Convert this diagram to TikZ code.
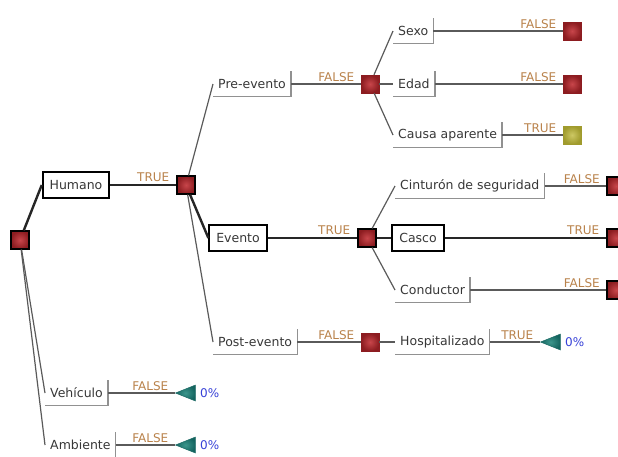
\documentclass[tikz,border=0pt]{standalone}
\usepackage{fontspec}
\setmainfont{DejaVu Sans}
\usepackage{tikz}
\usetikzlibrary{positioning,shapes.geometric}
\definecolor{txtcol}{RGB}{55,55,55}
\definecolor{lblcol}{RGB}{185,130,75}
\definecolor{pctcol}{RGB}{55,65,215}
\definecolor{linecol}{RGB}{90,90,90}
\definecolor{brkcol}{RGB}{145,145,145}
\definecolor{redin}{RGB}{200,70,75}
\definecolor{redout}{RGB}{140,28,32}
\definecolor{olvin}{RGB}{205,200,100}
\definecolor{olvout}{RGB}{160,155,45}
\definecolor{tealin}{RGB}{60,150,140}
\definecolor{tealout}{RGB}{20,100,95}

\begin{document}
\begin{tikzpicture}[
	x=1pt, y=-1pt,
	font=\fontsize{12.5}{14}\selectfont,
	thn/.style={
		draw=linecol,
		line width=1.2pt
	},
	thk/.style={
		draw=black!85,
		line width=2.4pt
	},
	brkline/.style={
		draw=brkcol,
		line width=1.4pt
	},
	box/.style={
		draw=black,
		line width=1.8pt,
		fill=white,
		text=txtcol,
		inner xsep=7pt,
		minimum height=26pt
	},
	brk/.style={
		text=txtcol,
		anchor=west,
		inner xsep=5pt,
		minimum height=25pt,
		append after command={
			(\tikzlastnode.south west) edge[brkline] (\tikzlastnode.south east)
			(\tikzlastnode.south east) edge[brkline] (\tikzlastnode.north east)
		}
	},
	sq/.style={
		draw=redout,
		inner color=redin,
		outer color=redout,
		minimum size=18pt,
		inner sep=0pt
	},
	sqb/.style={
		sq,
		draw=black,
		line width=1.2pt
	},
	sqg/.style={
		sq,
		draw=olvout,
		inner color=olvin,
		outer color=olvout
	},
	tri/.style={
		isosceles triangle,
		isosceles triangle stretches,
		shape border rotate=180,
		draw=tealout,
		inner color=tealin,
		outer color=tealout,
		minimum width=16pt,
		minimum height=20pt,
		inner sep=0pt
	},
	lbl/.style={
		font=\fontsize{12}{14}\selectfont,
		text=lblcol,
		anchor=south east,
		xshift=-4pt,
		inner sep=2pt
	},
	pct/.style={
		font=\fontsize{12}{14}\selectfont,
		text=pctcol
	}
	]
	\useasboundingbox (0,0) rectangle (618,456);
	
	\node[sqb] (root) at (20,240) {};
	\node[box] (hum) at (76,185) {Humano};
	\node[sqb] (d1) at (186,185) {};
	
	\node[brk] (pre) at (213,84) {Pre-evento};
	\node[box] (evt) at (238,238) {Evento};
	\node[brk] (post) at (213,342) {Post-evento};
	
	\node[sq] (d2) at (370,84) {};
	\node[brk] (sexo) at (393,31) {Sexo};
	\node[brk] (edad) at (393,84) {Edad};
	\node[brk] (causa) at (393,135) {Causa aparente};
	\node[sq] (e1) at (572,31) {};
	\node[sq] (e2) at (572,84) {};
	\node[sqg] (e3) at (572,135) {};
	
	\node[sqb] (d3) at (367,238) {};
	\node[brk] (cint) at (395,186) {Cinturón de seguridad};
	\node[box] (casco) at (418,238) {Casco};
	\node[brk] (cond) at (395,290) {Conductor};
	\node[sqb] (f1) at (616,186) {};
	\node[sqb] (f2) at (616,238) {};
	\node[sqb] (f3) at (616,290) {};
	
	\node[sq] (d4) at (370,342) {};
	\node[brk] (hosp) at (395,342) {Hospitalizado};
	\node[tri] (t1) at (555,342) {};
	\node[pct, right=1pt of t1] (p1) {0\%};
	
	\node[brk] (veh) at (45,393) {Vehículo};
	\node[tri] (t2) at (190,393) {};
	\node[pct, right=1pt of t2] (p2) {0\%};
	\node[brk] (amb) at (45,445) {Ambiente};
	\node[tri] (t3) at (190,445) {};
	\node[pct, right=1pt of t3] (p3) {0\%};
	
	% main branch
	\draw[thk] (root) -- (hum.west);
	\draw[thk] (hum) -- node[lbl, pos=1] {TRUE} (d1);
	\draw[thk] (d1) -- (evt.west);
	\draw[thk] (evt) -- node[lbl, pos=1] {TRUE} (d3);
	\draw[thk] (d3) -- (casco);
	\draw[thk] (casco) -- node[lbl, pos=1] {TRUE} (f2);
	
	\draw[thn] (root) -- (veh.west);
	\draw[thn] (root) -- (amb.west);
	\draw[thn] (veh) -- node[lbl, pos=1] {FALSE} (t2);
	\draw[thn] (amb) -- node[lbl, pos=1] {FALSE} (t3);
	
	\draw[thn] (d1) -- (pre.west);
	\draw[thn] (d1) -- (post.west);
	\draw[thn] (pre) -- node[lbl, pos=1] {FALSE} (d2);
	\draw[thn] (post) -- node[lbl, pos=1] {FALSE} (d4);
	\draw[thn] (d4) -- (hosp);
	\draw[thn] (hosp) -- node[lbl, pos=1] {TRUE} (t1);
	
	\draw[thn] (d2) -- (sexo.west);
	\draw[thn] (d2) -- (edad);
	\draw[thn] (d2) -- (causa.west);
	\draw[thn] (sexo) -- node[lbl, pos=1] {FALSE} (e1);
	\draw[thn] (edad) -- node[lbl, pos=1] {FALSE} (e2);
	\draw[thn] (causa) -- node[lbl, pos=1] {TRUE} (e3);
	
	\draw[thn] (d3) -- (cint.west);
	\draw[thn] (d3) -- (cond.west);
	\draw[thn] (cint) -- node[lbl, pos=1] {FALSE} (f1);
	\draw[thn] (cond) -- node[lbl, pos=1] {FALSE} (f3);
\end{tikzpicture}
\end{document}
